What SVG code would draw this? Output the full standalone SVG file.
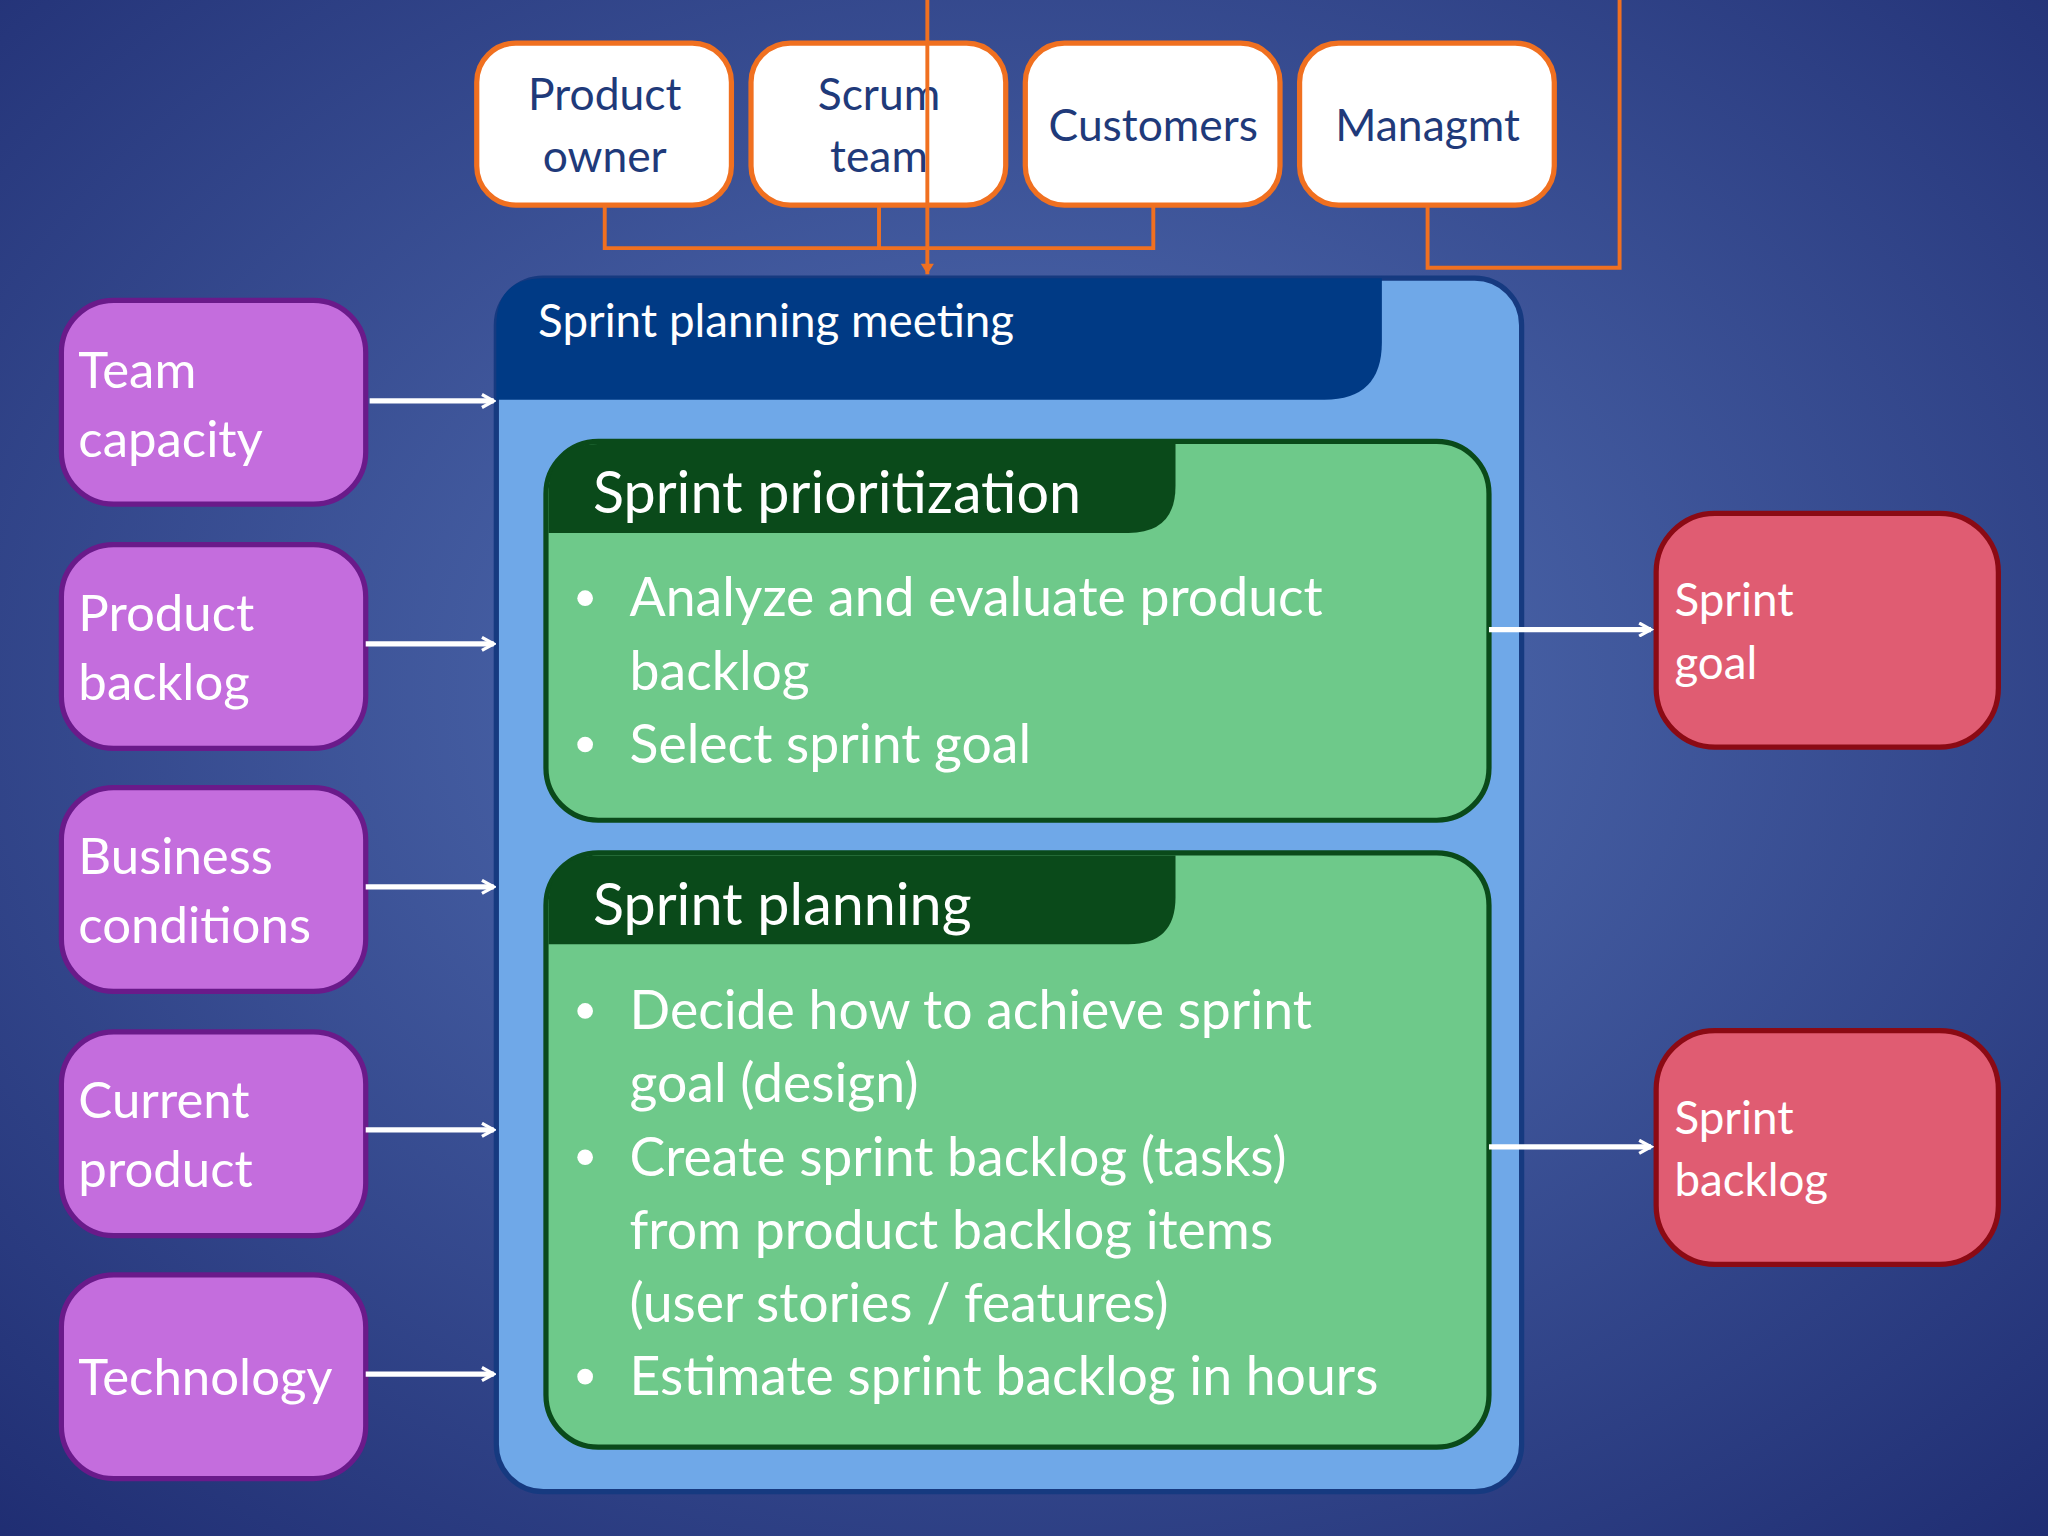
<svg xmlns="http://www.w3.org/2000/svg" width="2048" height="1536" viewBox="0 0 2048 1536">
<defs>
<radialGradient id="bg" cx="50%" cy="45%" r="75%"><stop offset="0" stop-color="#5674b8"/><stop offset="1" stop-color="#1f2d72"/></radialGradient>
<marker id="wa" markerWidth="12" markerHeight="12" refX="10" refY="6" orient="auto" markerUnits="userSpaceOnUse"><path d="M1,1 L10,6 L1,11" fill="none" stroke="#fff" stroke-width="2.5"/></marker>
<marker id="oa" markerWidth="12" markerHeight="12" refX="6" refY="10" orient="0" markerUnits="userSpaceOnUse"><path d="M1,2 L6,10 L11,2 Z" fill="#f07020"/></marker>
<style>
text{font-family:Lato,"Open Sans",sans-serif}
.top{fill:#fff;stroke:#f07020;stroke-width:4}
.tt{fill:#1f3a7a;font-size:34px;text-anchor:middle}
.pur{fill:#c46ddd;stroke:#6a1a8a;stroke-width:4}
.red{fill:#e05c72;stroke:#8b0a14;stroke-width:4}
.wt{fill:#fff;font-size:39px}
.rt{fill:#fff;font-size:35px}
.grn{fill:#6ec98a;stroke:#0a4a1a;stroke-width:4}
.gt{fill:#fff;font-size:41px}
.oc{fill:none;stroke:#f07020;stroke-width:3}
.wc{fill:none;stroke:#fff;stroke-width:4}
</style>
</defs>
<rect width="2048" height="1536" fill="url(#bg)"/>
<g transform="scale(1.30612)">
<g id="product-owner"><rect class="top" x="365" y="33" width="195" height="124" rx="30"/><text class="tt" x="463" y="84">Product</text><text class="tt" x="463" y="132">owner</text></g>
<g id="scrum-team"><rect class="top" x="575" y="33" width="195" height="124" rx="30"/><text class="tt" x="673" y="84">Scrum</text><text class="tt" x="673" y="132">team</text></g>
<g id="customers"><rect class="top" x="785" y="33" width="195" height="124" rx="30"/><text class="tt" x="883" y="108">Customers</text></g>
<g id="managmt"><rect class="top" x="995" y="33" width="195" height="124" rx="30"/><text class="tt" x="1093" y="108">Managmt</text></g>
<g id="meeting">
<rect x="380" y="213" width="785" height="929" rx="36" fill="#6fa8e8" stroke="#163a80" stroke-width="4"/>
<path d="M416,213 H1058 V262 Q1058,306 1014,306 H380 V249 Q380,213 416,213 Z" fill="#003a85"/>
<text x="412" y="258" fill="#fff" font-size="35">Sprint planning meeting</text>
</g>
<g id="prioritization">
<rect class="grn" x="418" y="338" width="722" height="290" rx="40"/>
<path d="M458,340 H900 V372 Q900,408 864,408 H420 V378 Q420,340 458,340 Z" fill="#0a4a1a"/>
<text x="454" y="393" fill="#fff" font-size="44">Sprint prioritization</text>
<g class="gt"><circle cx="448" cy="458" r="6" fill="#fff"/><text x="482" y="472">Analyze and evaluate product</text><text x="482" y="528">backlog</text><circle cx="448" cy="570" r="6" fill="#fff"/><text x="482" y="584">Select sprint goal</text></g>
</g>
<g id="planning">
<rect class="grn" x="418" y="653" width="722" height="455" rx="40"/>
<path d="M458,655 H900 V687 Q900,723 864,723 H420 V693 Q420,655 458,655 Z" fill="#0a4a1a"/>
<text x="454" y="708" fill="#fff" font-size="44">Sprint planning</text>
<g class="gt"><circle cx="448" cy="774" r="6" fill="#fff"/><text x="482" y="788">Decide how to achieve sprint</text><text x="482" y="844">goal (design)</text><circle cx="448" cy="886" r="6" fill="#fff"/><text x="482" y="900">Create sprint backlog (tasks)</text><text x="482" y="956">from product backlog items</text><text x="482" y="1012">(user stories / features)</text><circle cx="448" cy="1054" r="6" fill="#fff"/><text x="482" y="1068">Estimate sprint backlog in hours</text></g>
</g>
<g id="team-capacity"><rect class="pur" x="47" y="230" width="233" height="156" rx="40"/><text class="wt" x="60" y="297">Team</text><text class="wt" x="60" y="350">capacity</text></g>
<g id="product-backlog"><rect class="pur" x="47" y="417" width="233" height="156" rx="40"/><text class="wt" x="60" y="483">Product</text><text class="wt" x="60" y="536">backlog</text></g>
<g id="business-conditions"><rect class="pur" x="47" y="603" width="233" height="156" rx="40"/><text class="wt" x="60" y="669">Business</text><text class="wt" x="60" y="722">conditions</text></g>
<g id="current-product"><rect class="pur" x="47" y="790" width="233" height="156" rx="40"/><text class="wt" x="60" y="856">Current</text><text class="wt" x="60" y="909">product</text></g>
<g id="technology"><rect class="pur" x="47" y="976" width="233" height="156" rx="40"/><text class="wt" x="60" y="1068">Technology</text></g>
<g id="sprint-goal"><rect class="red" x="1268" y="393" width="262" height="179" rx="45"/><text class="rt" x="1282" y="472">Sprint</text><text class="rt" x="1282" y="520">goal</text></g>
<g id="sprint-backlog"><rect class="red" x="1268" y="789" width="262" height="179" rx="45"/><text class="rt" x="1282" y="868">Sprint</text><text class="rt" x="1282" y="916">backlog</text></g>
<g id="connectors">
<path class="oc" d="M463,157 V190 H883 V157 M673,157 V190"/>
<path class="oc" d="M710,0 V210" marker-end="url(#oa)"/>
<path class="oc" d="M1093,157 V205 H1240 V0"/>
<path class="wc" d="M283,307 H378" marker-end="url(#wa)"/>
<path class="wc" d="M280,493 H378" marker-end="url(#wa)"/>
<path class="wc" d="M280,679 H378" marker-end="url(#wa)"/>
<path class="wc" d="M280,865 H378" marker-end="url(#wa)"/>
<path class="wc" d="M280,1052 H378" marker-end="url(#wa)"/>
<path class="wc" d="M1140,482 H1264" marker-end="url(#wa)"/>
<path class="wc" d="M1140,878 H1264" marker-end="url(#wa)"/>
</g>
</g>
</svg>
